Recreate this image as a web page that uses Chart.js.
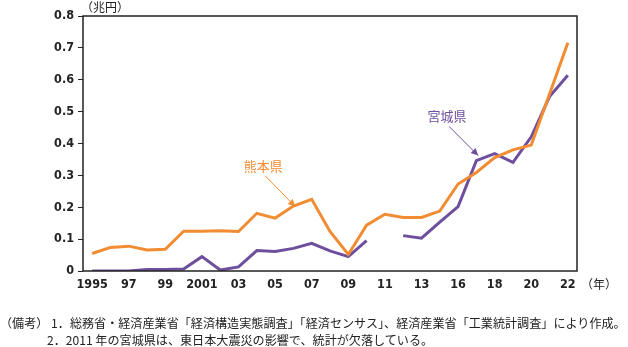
<!DOCTYPE html>
<html>
<head>
<meta charset="utf-8">
<script src="https://cdn.jsdelivr.net/npm/chart.js@4/dist/chart.umd.min.js"></script>
<style>
  body { margin: 0; background: #fff; }
  #wrap { position: relative; width: 628px; height: 347px; }
  .note {
    position: absolute;
    font-family: "Noto Sans CJK JP", sans-serif;
    font-size: 12.1px;
    color: #222;
    white-space: nowrap;
  }
</style>
</head>
<body>
<div id="wrap">
  <canvas id="myChart" width="628" height="347"></canvas>
  <div class="note" style="left:0px; top:314px;">（備考）&nbsp;1．総務省・経済産業省「経済構造実態調査」「経済センサス」、経済産業省「工業統計調査」により作成。</div>
  <div class="note" style="left:47px; top:331px;">2．2011 年の宮城県は、東日本大震災の影響で、統計が欠落している。</div>
</div>
<script>
const years = [
  "1995", "96", "97", "98", "99", "2000", "2001", "02", "03", "04",
  "05", "06", "07", "08", "09", "10", "11", "12", "13", "15",
  "16", "17", "18", "19", "20", "21", "22",
];

const kumamoto = [
  0.055, 0.074, 0.078, 0.066, 0.068, 0.125, 0.125, 0.126, 0.124, 0.181,
  0.166, 0.204, 0.225, 0.124, 0.052, 0.144, 0.178, 0.168, 0.168, 0.188,
  0.273, 0.309, 0.356, 0.380, 0.395, 0.555, 0.716,
];

const miyagi = [
  0.0, 0.0, 0.0, 0.005, 0.005, 0.006, 0.045, 0.003, 0.013, 0.064,
  0.061, 0.071, 0.087, 0.063, 0.045, 0.095, null, 0.111, 0.103, 0.153,
  0.202, 0.346, 0.368, 0.341, 0.421, 0.547, 0.614,
];

const yTicks = [0, 0.1, 0.2, 0.3, 0.4, 0.5, 0.6, 0.7, 0.8];

const orange = "#f28c33";
const purple = "#6e4f9e";
const tickFont = { family: "'Liberation Sans Narrow', 'DejaVu Sans Condensed', sans-serif", size: 12.5, weight: "bold" };

// labels with arrows: [text, color, label index, label value, arrow tip index, arrow tip value]
const notes = [
  ["熊本県", orange, 9.35, 0.33, 11.1, 0.202],
  ["宮城県", purple, 19.4, 0.485, 21.1, 0.362],
];

const framePlugin = {
  id: "frame",
  afterDraw(chart) {
    const { ctx, chartArea: a, scales } = chart;
    ctx.save();
    ctx.strokeStyle = "#222";
    ctx.lineWidth = 1.5;
    ctx.strokeRect(a.left, a.top, a.right - a.left, a.bottom - a.top);

    ctx.fillStyle = "#222";
    ctx.font = "12px 'Noto Sans CJK JP'";
    ctx.textBaseline = "middle";
    ctx.textAlign = "left";
    ctx.fillText("（兆円）", a.left - 2, 7);
    ctx.fillText("（年）", a.right + 4, 284);

    notes.forEach(([txt, col, li, lv, ti, tv]) => {
      const lx = scales.x.getPixelForValue(li);
      const ly = scales.y.getPixelForValue(lv);
      const tx = scales.x.getPixelForValue(ti);
      const ty = scales.y.getPixelForValue(tv);
      ctx.fillStyle = col;
      ctx.strokeStyle = col;
      ctx.font = "13px 'Noto Sans CJK JP'";
      ctx.textAlign = "center";
      ctx.fillText(txt, lx, ly);
      const sx = lx + 2, sy = ly + 10;
      ctx.lineWidth = 1;
      ctx.beginPath();
      ctx.moveTo(sx, sy);
      ctx.lineTo(tx, ty);
      ctx.stroke();
      const ang = Math.atan2(ty - sy, tx - sx);
      ctx.beginPath();
      ctx.moveTo(tx, ty);
      ctx.lineTo(tx - 8 * Math.cos(ang - 0.45), ty - 8 * Math.sin(ang - 0.45));
      ctx.lineTo(tx - 8 * Math.cos(ang + 0.45), ty - 8 * Math.sin(ang + 0.45));
      ctx.closePath();
      ctx.fill();
    });
    ctx.restore();
  },
};

const chart = new Chart(document.getElementById("myChart"), {
  type: "line",
  data: {
    labels: years,
    datasets: [
      {
        label: "熊本県",
        data: kumamoto,
        borderColor: orange,
        borderWidth: 3,
        pointRadius: 0,
        tension: 0,
      },
      {
        label: "宮城県",
        data: miyagi,
        borderColor: purple,
        borderWidth: 3,
        pointRadius: 0,
        tension: 0,
        spanGaps: false,
      },
    ],
  },
  options: {
    responsive: false,
    animation: false,
    layout: { padding: { top: 16, right: 51, left: 0, bottom: 0 } },
    plugins: {
      legend: { display: false },
      tooltip: { enabled: false },
    },
    scales: {
      x: {
        offset: true,
        grid: { display: false },
        border: { display: false },
        afterFit: (s) => { s.height = 76; },
        ticks: {
          autoSkip: false,
          maxRotation: 0,
          padding: -2,
          color: "#222",
          font: tickFont,
          callback: (v, i) => (i % 2 === 0 ? years[i] : ""),
        },
      },
      y: {
        min: 0,
        max: 0.8,
        afterFit: (s) => { s.width = 83; },
        afterBuildTicks: (s) => { s.ticks = yTicks.map((v) => ({ value: v })); },
        grid: { drawOnChartArea: false, tickLength: 5, color: "#222" },
        border: { display: false },
        ticks: {
          padding: 4,
          color: "#222",
          font: tickFont,
          callback: (v) => (v === 0 ? "0" : v.toFixed(1)),
        },
      },
    },
  },
  plugins: [framePlugin],
});
</script>
</body>
</html>
